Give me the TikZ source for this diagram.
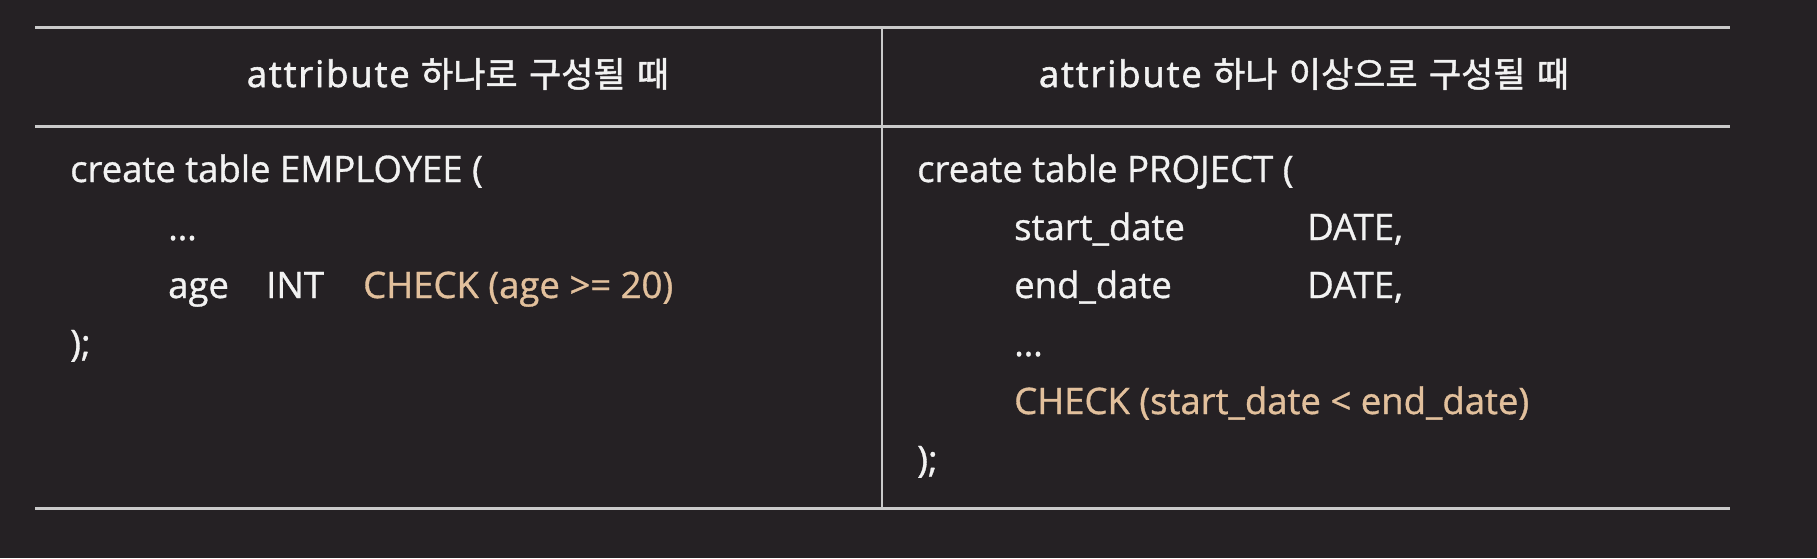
\documentclass[tikz,border=0pt]{standalone}
\usepackage{fontspec}
\setmainfont{Open Sans}
\newfontfamily\bodyfont{Open Sans}[FakeBold=0.9]
\newfontfamily\hfont{Open Sans}[FakeBold=1.6,LetterSpace=5]
\newfontfamily\kr{Noto Sans CJK KR}[FakeBold=1.4]
\definecolor{bgc}{HTML}{252124}
\definecolor{rulec}{HTML}{CACACA}
\definecolor{fgc}{HTML}{F2F2F2}
\definecolor{chk}{HTML}{E2C09C}
\begin{document}
\begin{tikzpicture}[x=1pt,y=-1pt,
  txt/.style={inner sep=0pt, anchor=base west, text=fgc, font=\bodyfont\fontsize{36.5}{44}\selectfont},
  hdr/.style={inner sep=0pt, anchor=base, text=fgc, font=\hfont\fontsize{36.5}{44}\selectfont},
  chktxt/.style={txt, text=chk},
  rule/.style={draw=rulec, line width=2.8pt}]
\fill[bgc] (0,0) rectangle (1817,558);
\useasboundingbox (0,0) rectangle (1817,558);
\newcommand{\krs}[1]{{\kr\fontsize{35}{40}\selectfont #1}}
% table corners
\coordinate (tl) at (35,27.7);
\coordinate (tr) at (1730,27.7);
\coordinate (hl) at (35,126.7);
\coordinate (hr) at (1730,126.7);
\coordinate (bl) at (35,508.5);
\coordinate (br) at (1730,508.5);
\coordinate (vt) at (882,27.7);
\coordinate (vb) at (882,508.5);
\draw[rule] (tl) -- (tr);
\draw[rule] (hl) -- (hr);
\draw[rule] (bl) -- (br);
\draw[rule] (vt) -- (vb);
% headers
\node[hdr] (h1) at (458,87) {attribute \krs{하나로} \krs{구성될} \krs{때}};
\node[hdr] (h2) at (1304,87) {attribute \krs{하나} \krs{이상으로} \krs{구성될} \krs{때}};
% left body
\node[txt] (l1) at (70,182) {create table EMPLOYEE (};
\node[txt] (l2) at (168,240) {…};
\node[txt] (l3a) at (168,298) {age};
\node[txt] (l3b) at (266,298) {INT};
\node[chktxt] (l3c) at (363,298) {CHECK (age >= 20)};
\node[txt] (l4) at (70,356) {);};
% right body
\node[txt] (r1) at (917,182) {create table PROJECT (};
\node[txt] (r2a) at (1014,240) {start\_date};
\node[txt] (r2b) at (1307,240) {DATE,};
\node[txt] (r3a) at (1014,298) {end\_date};
\node[txt] (r3b) at (1307,298) {DATE,};
\node[txt] (r4) at (1014,356) {…};
\node[chktxt] (r5) at (1014,414) {CHECK (start\_date < end\_date)};
\node[txt] (r6) at (917,472) {);};
\end{tikzpicture}
\end{document}
